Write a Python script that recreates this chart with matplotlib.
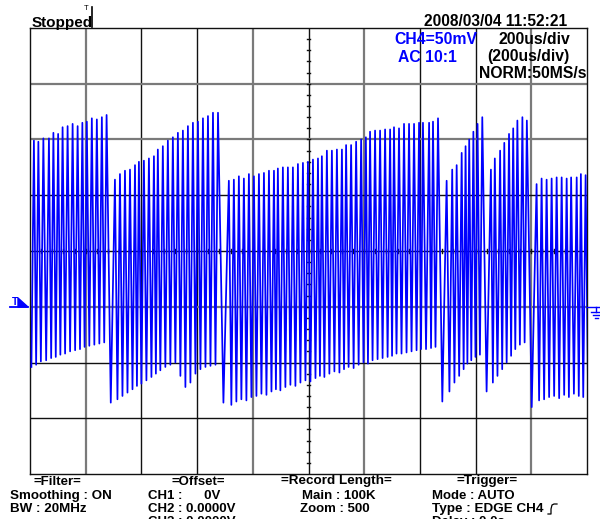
import matplotlib
matplotlib.use("Agg")
import matplotlib.pyplot as plt
from matplotlib.patches import Polygon
from matplotlib.lines import Line2D

# Spike peak times (us) and levels (mV), one list per burst
seg_t = [
    [14, 30, 48, 68, 84, 101, 117, 135, 153, 171, 188, 204, 222, 240, 258, 275],
    [305, 323, 341, 359, 377, 391, 409, 427, 445, 459, 477, 495, 513, 531, 549,
     567, 585, 603, 621, 639, 657, 675],
    [714, 732, 750, 768, 786, 804, 822, 840, 858, 876, 890, 908, 926, 944, 962,
     980, 998, 1016, 1034, 1048, 1066, 1084, 1102, 1120, 1135, 1153, 1171, 1189,
     1206, 1221, 1239, 1257, 1275, 1293, 1307, 1325, 1343, 1361, 1379, 1397,
     1411, 1433, 1447, 1465],
    [1496, 1516, 1532, 1550, 1564, 1577, 1592, 1607, 1624],
    [1655, 1669, 1688, 1703, 1720, 1735, 1750, 1768, 1784],
    [1819, 1837, 1855, 1873, 1891, 1909, 1927, 1943, 1963, 1978, 1995],
]
seg_top = [
    [99, 98, 101, 101, 106, 105, 111, 112, 114, 112, 115, 116, 119, 118, 120, 122],
    [64, 69, 72, 73, 77, 80, 81, 83, 85, 91, 94, 99, 102, 106, 108, 112, 115,
     116, 119, 121, 124, 124],
    [63, 64, 67, 65, 69, 67, 69, 70, 72, 72, 74, 75, 75, 75, 78, 79, 80, 82, 83,
     85, 90, 90, 91, 91, 95, 95, 98, 100, 102, 107, 108, 108, 109, 109, 111, 110,
     114, 114, 114, 115, 115, 115, 116, 119],
    [63, 73, 77, 88, 94, 100, 107, 114, 120],
    [73, 83, 90, 97, 105, 110, 117, 120, 117],
    [60, 65, 64, 65, 66, 66, 65, 66, 66, 69, 68],
]
# trough before each spike (mV)
seg_bot = [
    [-104, -102, -99, -98, -96, -95, -93, -92, -90, -89, -88, -86, -85, -84, -83, -82],
    [-136, -133, -130, -127, -124, -121, -119, -116, -113, -110, -107, -104,
     -102, -100, -112, -122, -118, -110, -106, -104, -103, -102],
    [-136, -138, -135, -133, -134, -131, -130, -128, -129, -126, -124, -125,
     -122, -120, -121, -118, -116, -117, -114, -112, -113, -110, -108, -109,
     -106, -104, -105, -102, -100, -101, -98, -97, -96, -95, -94, -92, -92, -91,
     -90, -89, -88, -88, -87, -86],
    [-135, -126, -118, -112, -106, -101, -98, -95, -93],
    [-126, -118, -112, -106, -100, -94, -88, -84, -82],
    [-140, -134, -133, -131, -130, -132, -129, -131, -128, -130, -131],
]

W, H = 600, 519
BLUE = "#0000ff"
FONT = "Liberation Sans"

fig = plt.figure(figsize=(W / 100, H / 100), dpi=100)
ax = fig.add_axes([30 / W, 45 / H, 557 / W, 446 / H])
ax.set_xlim(0, 2000)
ax.set_ylim(-200, 200)
ax.set_xticks([])
ax.set_yticks([])
for s in ax.spines.values():
    s.set_linewidth(1.0)
    s.set_color("#111111")

# graticule
gray_v = [1, 4, 6, 9]
for k in range(1, 10):
    if k in gray_v:
        ax.axvline(200 * k, color="#7a7a7a", lw=1.6, zorder=1)
    else:
        ax.axvline(200 * k, color="#111111", lw=1.0, zorder=1)
gray_h = [3, 2, -1]
for k in range(-3, 4):
    if k in gray_h:
        ax.axhline(50 * k, color="#7a7a7a", lw=1.6, zorder=1)
    else:
        ax.axhline(50 * k, color="#111111", lw=1.0, zorder=1)

# minor ticks on the centre cross
for i in range(1, 50):
    ax.plot([40 * i, 40 * i], [-1.8, 1.8], color="#111111", lw=1.0, zorder=1)
for i in range(-19, 20):
    ax.plot([993, 1007], [10 * i, 10 * i], color="#111111", lw=1.0, zorder=1)

# build the trace: trough midway before each peak
xs, ys = [], []
prev_t = None
for ts, tops, bots in zip(seg_t, seg_top, seg_bot):
    for t, top, bot in zip(ts, tops, bots):
        tb = t - 9 if prev_t is None else (prev_t + t) / 2
        xs += [tb, t]
        ys += [bot, top]
        prev_t = t
xs.append(prev_t + 9)
ys.append(seg_bot[-1][-1])
ax.plot(xs, ys, color=BLUE, lw=1.25, zorder=3)


def fx(px):
    return px / W


def fy(py):
    return 1 - py / H


def label(px, py, s, color="black", ha="left", size=9.5):
    fig.text(fx(px), fy(py), s, color=color, ha=ha, va="center",
             fontsize=size, fontweight="bold", family=FONT)


# header
label(32, 23, "Stopped", size=11)
fig.text(fx(86), fy(8), "T", ha="center", va="center", fontsize=5.5, family=FONT)
fig.add_artist(Line2D([fx(92), fx(92)], [fy(7), fy(27)], color="black", lw=1.2))
label(567, 22, "2008/03/04 11:52:21", ha="right", size=11.2)
label(394, 40, "CH4=50mV", color=BLUE, size=11.3)
label(398, 57, "AC 10:1", color=BLUE, size=11.3)
label(570, 40, "200us/div", ha="right", size=11.3)
label(570, 57, "(200us/div)", ha="right", size=11.3)
label(587, 73, "NORM:50MS/s", ha="right", size=11.3)

# trigger level marker (left)
fig.add_artist(Line2D([fx(10), fx(28)], [fy(307), fy(307)], color=BLUE, lw=1.3))
fig.text(fx(15), fy(302), "T", color=BLUE, ha="center", va="center",
         fontsize=7.5, fontweight="bold", family=FONT)
fig.add_artist(Polygon([(fx(18), fy(298)), (fx(28), fy(307)), (fx(18), fy(307))],
                       closed=True, color=BLUE, transform=fig.transFigure))

# ground marker (right)
fig.add_artist(Line2D([fx(587), fx(600)], [fy(307), fy(307)], color=BLUE, lw=1.0))
fig.add_artist(Line2D([fx(596), fx(596)], [fy(307), fy(312)], color=BLUE, lw=1.0))
fig.add_artist(Line2D([fx(591), fx(600)], [fy(312), fy(312)], color=BLUE, lw=1.0))
fig.add_artist(Line2D([fx(593), fx(599)], [fy(315), fy(315)], color=BLUE, lw=1.0))
fig.add_artist(Line2D([fx(594.5), fx(597.5)], [fy(318), fy(318)], color=BLUE, lw=1.0))

# status block at the bottom
label(57, 482, "=Filter=", ha="center")
label(10, 496, "Smoothing : ON", size=9.6)
label(10, 509, "BW : 20MHz", size=9.6)
label(198, 482, "=Offset=", ha="center")
label(148, 496, "CH1 :      0V")
label(148, 509, "CH2 : 0.0000V")
label(148, 522, "CH3 : 0.0000V")
label(336, 481, "=Record Length=", ha="center", size=9.7)
label(302, 496, "Main : 100K")
label(300, 509, "Zoom : 500")
label(487, 481, "=Trigger=", ha="center", size=9.7)
label(432, 496, "Mode : AUTO")
label(432, 509, "Type : EDGE CH4", size=9.7)
label(432, 522, "Delay : 0.0s")

# rising-edge glyph after the trigger type
edge_x = [548, 551, 551, 552, 554, 557]
edge_y = [514, 514, 509, 505, 504, 504]
fig.add_artist(Line2D([fx(v) for v in edge_x], [fy(v) for v in edge_y],
                      color="black", lw=0.9))

fig.savefig("out.png", dpi=100)
